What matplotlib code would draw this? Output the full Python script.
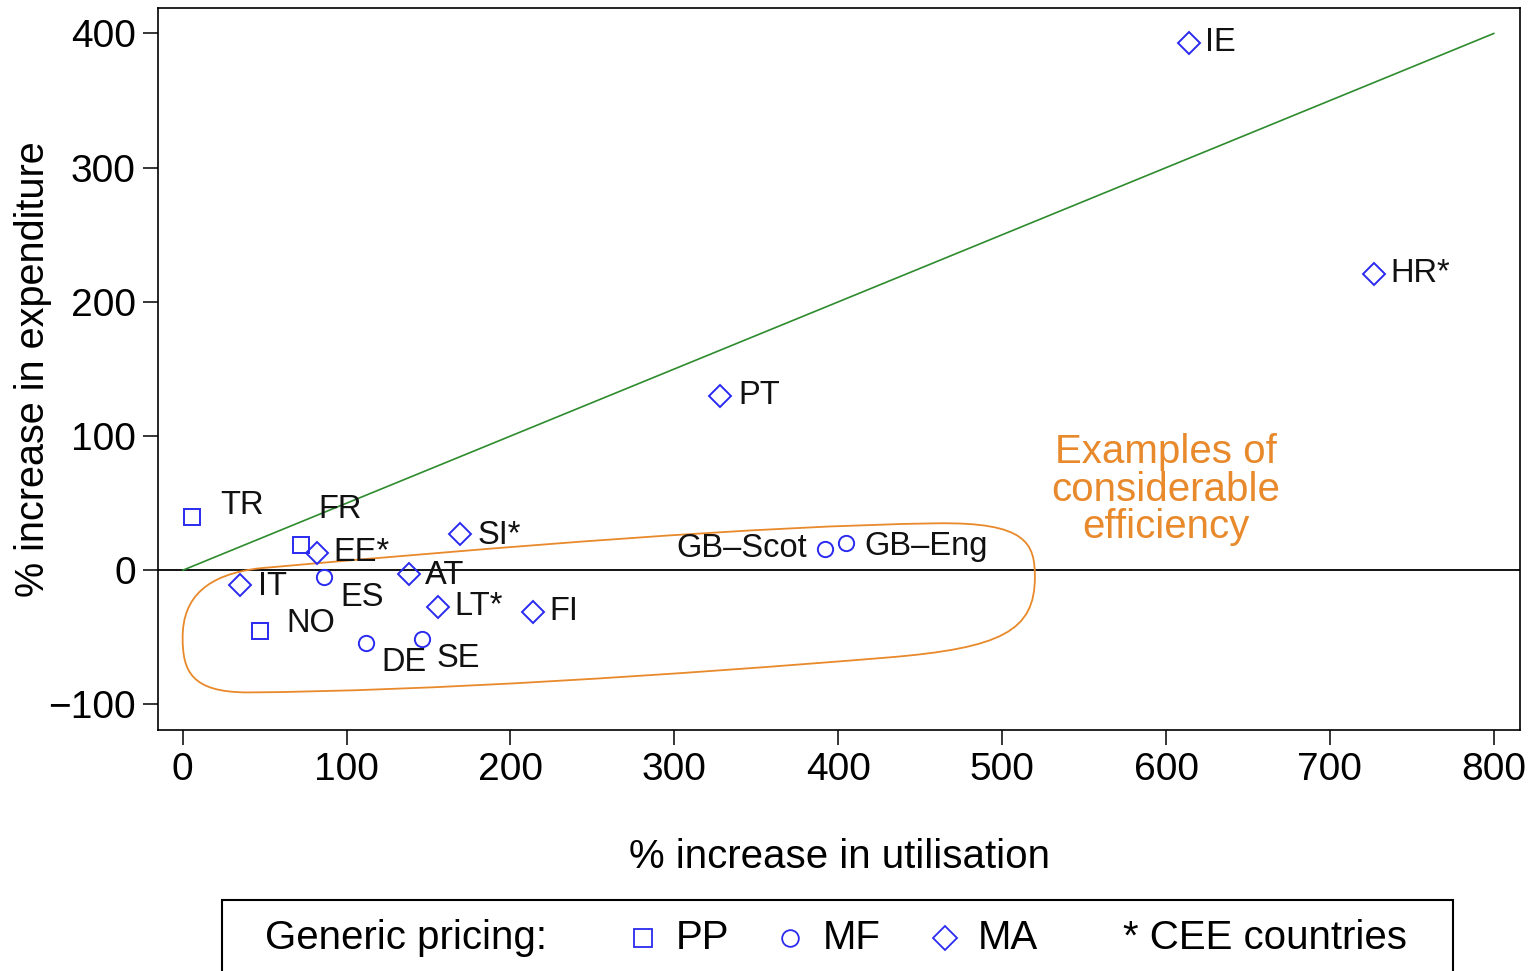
import matplotlib
matplotlib.use("Agg")
import matplotlib.pyplot as plt
from matplotlib.path import Path
from matplotlib.patches import PathPatch, Rectangle
from matplotlib.lines import Line2D

plt.rcParams['font.family'] = ['Liberation Sans', 'DejaVu Sans']

# ---- data ----
countries = ["TR", "FR", "NO", "ES", "DE", "SE", "GB\u2013Scot", "GB\u2013Eng",
             "EE*", "IT", "AT", "LT*", "FI", "SI*", "PT", "IE", "HR*"]
pricing = ["PP", "PP", "PP", "MF", "MF", "MF", "MF", "MF",
           "MA", "MA", "MA", "MA", "MA", "MA", "MA", "MA", "MA"]
utilisation = [6, 72, 47, 86, 112, 146, 392, 405,
               82, 35, 138, 156, 214, 169, 328, 614, 727]
expenditure = [40, 19, -45, -5, -54, -51, 16, 20,
               13, -11, -3, -27, -31, 27, 130, 393, 221]
# label anchor positions (data coords) and alignment
label_x = [23, 83, 63, 96, 121, 155, 381, 416,
           92, 46, 148, 166, 224, 180, 339, 624, 737]
label_y = [48, 45, -40, -20, -69, -66, 16, 18,
           13, -12, -4, -27, -31, 26, 130, 393, 221]
label_ha = ["left"] * 6 + ["right"] + ["left"] * 10

xticks = [0, 100, 200, 300, 400, 500, 600, 700, 800]
yticks = [-100, 0, 100, 200, 300, 400]

markers = {"PP": "s", "MF": "o", "MA": "D"}
msizes = {"PP": 12, "MF": 11, "MA": 11.5}
blue = "#2a2af0"
orange = "#E8892B"

fig = plt.figure(figsize=(15.36, 9.71), dpi=100)
ax = fig.add_axes([0.1029, 0.2482, 0.8867, 0.7436])

for c, p, xv, yv in zip(countries, pricing, utilisation, expenditure):
    ax.plot(xv, yv, linestyle="none", marker=markers[p], markersize=msizes[p],
            markerfacecolor="none", markeredgecolor=blue, markeredgewidth=1.4,
            zorder=4)
for c, lx, ly, ha in zip(countries, label_x, label_y, label_ha):
    ax.text(lx, ly, c, ha=ha, va="center", fontsize=23.5, color="#111111", zorder=5)

# reference lines
ax.axhline(0, color="black", lw=1.3, zorder=2)
ax.plot([0, 800], [0, 400], color="#2e8b2e", lw=1.2, zorder=3)

# orange loop
verts = [(47, 1.5),
         (200, 18), (350, 33), (460, 35),
         (515, 36), (520, 20), (520, -5),
         (520, -45), (500, -58), (430, -65),
         (300, -78), (150, -90), (40, -91),
         (5, -91), (0, -75), (0, -50),
         (0, -20), (15, -3), (47, 1.5)]
codes = [Path.MOVETO] + [Path.CURVE4] * 18
ax.add_patch(PathPatch(Path(verts, codes), facecolor="none", edgecolor=orange,
                       lw=1.3, zorder=3))
ax.text(600, 60, "Examples of\nconsiderable\nefficiency", ha="center", va="center",
        fontsize=29, color=orange, linespacing=0.98)

ax.set_xlim(-15, 816)
ax.set_ylim(-119, 419)
ax.set_xticks(xticks)
ax.set_yticks(yticks)
ax.set_yticklabels([str(v).replace("-", "\u2212") for v in yticks])
ax.tick_params(axis="both", direction="out", length=11, width=1.1, labelsize=28,
               pad=5, colors="black")
for s in ax.spines.values():
    s.set_linewidth(1.2)
ax.set_xlabel("% increase in utilisation", fontsize=29, labelpad=36)
ax.set_ylabel("% increase in expenditure", fontsize=28.5, va="center")
ax.yaxis.set_label_coords(-0.0915, 0.5)

# legend box (manual)
fig.add_artist(Rectangle((222 / 1536, -0.05), (1453 - 222) / 1536, (0.05 + (971 - 900) / 971),
                         transform=fig.transFigure, facecolor="white",
                         edgecolor="black", lw=1.5))
ly = 1 - 938 / 971
fig.text(265 / 1536, ly, "Generic pricing:", fontsize=29, va="center", ha="left")
for px, mk, ms, lab in [(643, "s", 12.5, "PP"), (790, "o", 12, "MF"), (945, "D", 12, "MA")]:
    fig.add_artist(Line2D([px / 1536], [ly], transform=fig.transFigure, marker=mk,
                          markersize=ms, markerfacecolor="none",
                          markeredgecolor=blue, markeredgewidth=1.3, linestyle="none"))
    fig.text((px + 33) / 1536, ly, lab, fontsize=29, va="center", ha="left")
fig.text(1123 / 1536, ly, "* CEE countries", fontsize=29, va="center", ha="left")

fig.savefig("out.png", dpi=100)
